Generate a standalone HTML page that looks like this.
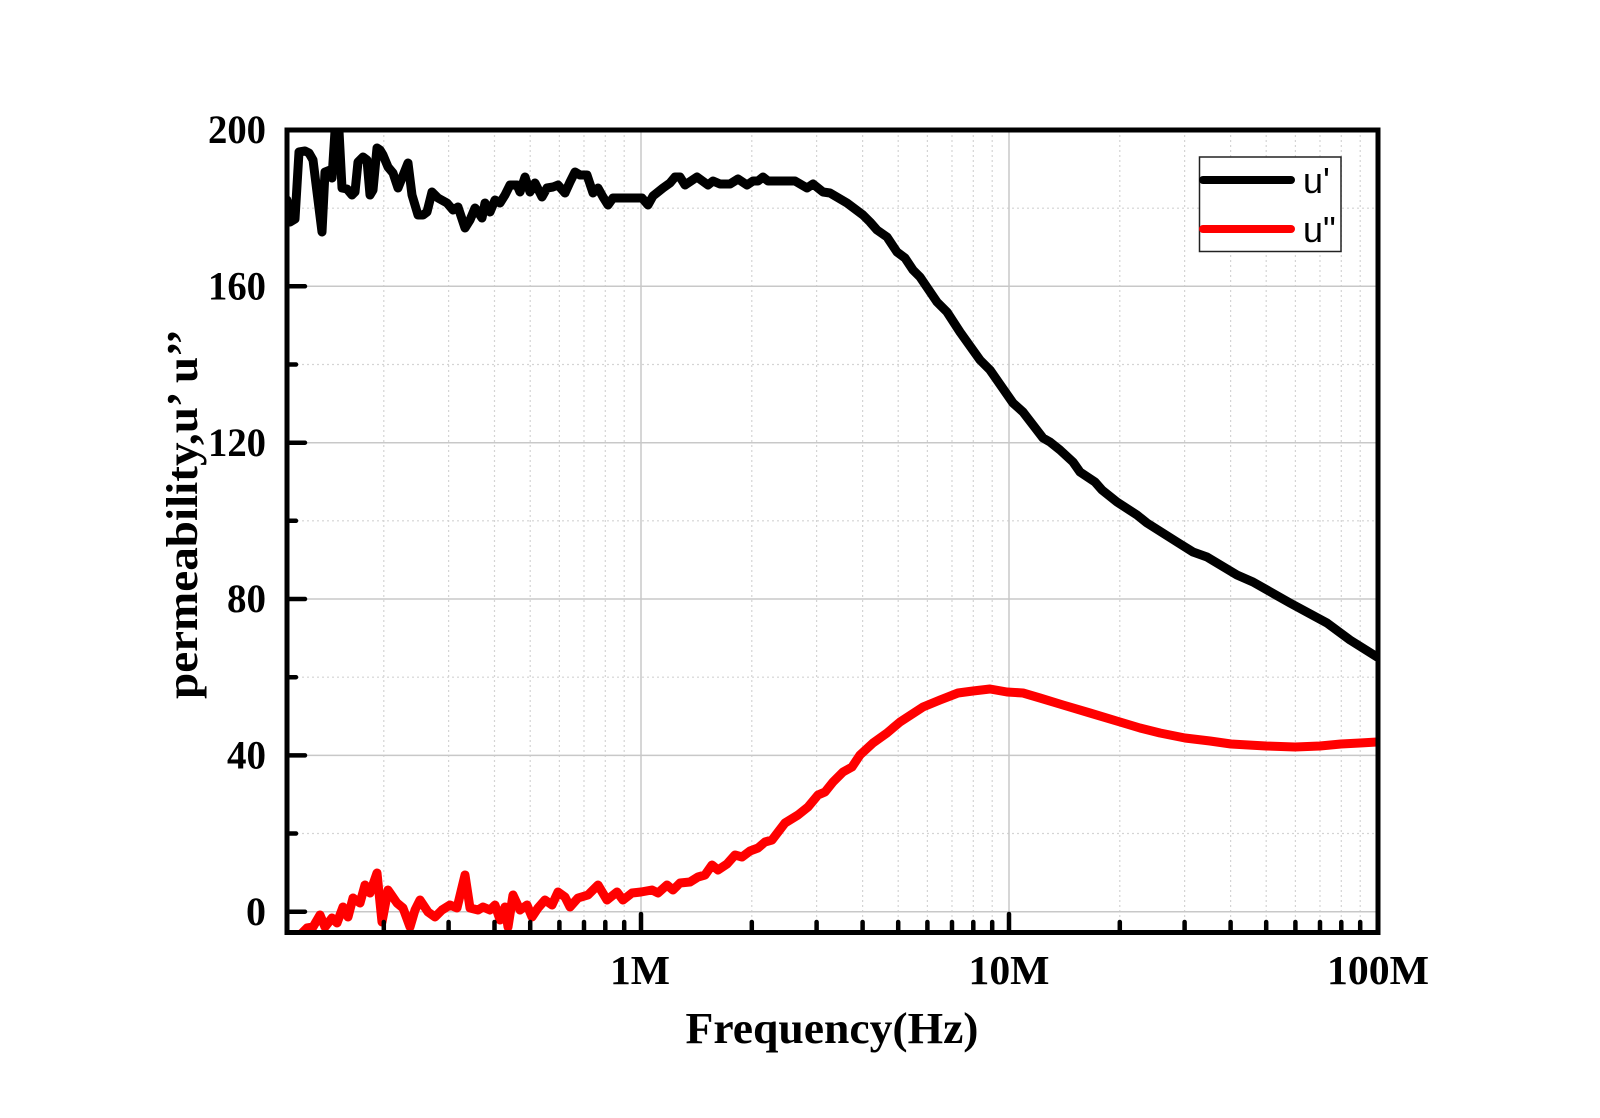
<!DOCTYPE html>
<html><head><meta charset="utf-8"><style>
html,body{margin:0;padding:0;background:#fff;}
svg{display:block;}
.tk{font-family:"Liberation Serif","Times New Roman",serif;font-weight:bold;fill:#000;}
.tt{font-family:"Liberation Serif","Times New Roman",serif;font-weight:bold;fill:#000;}
.lg{font-family:"Liberation Sans",Arial,sans-serif;font-size:36px;fill:#000;}
</style></head><body>
<svg width="1600" height="1118" viewBox="0 0 1600 1118" xmlns="http://www.w3.org/2000/svg">
<defs><clipPath id="pc"><rect x="287" y="128" width="1091" height="805"/></clipPath></defs>
<rect width="1600" height="1118" fill="#fff"/>
<!-- minor grid -->
<g stroke="#d4d4d4" stroke-width="1.2" stroke-dasharray="2,3" fill="none">
<path d="M287 208.2H1378M287 364.5H1378M287 520.8H1378M287 677.2H1378M287 833.5H1378"/>
<path d="M383.8 130V933M448.6 130V933M494.5 130V933M530.2 130V933M559.4 130V933M584 130V933M605.3 130V933M624.2 130V933
M751.8 130V933M816.6 130V933M862.6 130V933M898.2 130V933M927.4 130V933M952 130V933M973.3 130V933M992.2 130V933
M1119.8 130V933M1184.6 130V933M1230.6 130V933M1266.2 130V933M1295.4 130V933M1320 130V933M1341.3 130V933M1360.2 130V933"/>
</g>
<!-- major grid -->
<g stroke="#c8c8c8" stroke-width="1.5" fill="none">
<path d="M287 286.3H1378M287 442.7H1378M287 599H1378M287 755.4H1378M287 911.7H1378M641 130V933M1009 130V933"/>
</g>
<!-- curves -->
<g clip-path="url(#pc)" fill="none" stroke-width="9" stroke-linejoin="round" stroke-linecap="round">
<polyline stroke="#ff0000" points="287,945 300,935 307,928 313,927 320,915 325,927 332,918 337,923 343,907 348,917 353,898 360,903 365,885 370,893 377,873 382,922 388,890 397,903 403,908 410,927 415,910 420,900 428,912 435,917 442,910 450,905 457,908 465,875 470,908 478,910 483,907 490,910 495,905 500,920 505,907 508,927 513,895 520,910 527,905 532,917 538,908 545,900 552,905 558,892 565,897 570,907 578,898 588,895 598,885 607,900 617,892 623,900 632,893 641,892 652,890 658,893 667,885 673,890 680,883 690,882 698,877 705,875 712,865 718,870 727,864 735,855 742,857 750,851 758,848 765,842 772,840 785,823 798,815 808,807 818,795 825,792 833,782 843,772 852,767 860,755 873,743 887,733 900,722 923,707 940,700 958,693 973,691 990,689 1007,692 1023,693 1040,698 1063,705 1090,713 1120,722 1140,728 1160,733 1185,738 1210,741 1231,744 1266,746 1295,747 1320,746 1341,744 1360,743 1377,742"/>
<polyline stroke="#000" points="287,200 290,222 295,219 299,152 305,151 309,153 313,160 322,232 325,172 330,170 332,178 335,131 339,131 342,188 347,189 352,195 355,192 358,162 363,157 367,160 370,195 373,190 377,148 380,150 383,155 388,167 393,173 398,188 402,178 408,163 412,195 418,215 423,215 427,212 432,192 438,198 447,203 453,210 458,207 465,228 470,220 475,208 478,212 482,218 485,203 490,212 495,200 500,203 505,195 510,185 517,185 520,192 525,177 530,192 535,183 542,197 547,188 553,187 558,185 565,193 570,182 575,172 580,175 587,175 593,193 598,188 603,197 608,205 613,198 642,198 648,205 653,196 663,188 670,183 675,177 680,177 685,185 697,177 708,185 713,181 720,184 730,184 738,179 747,185 753,181 758,181 763,177 768,181 795,181 807,188 813,184 823,192 830,193 847,203 863,215 870,222 877,230 887,237 897,252 905,258 913,270 920,277 937,302 947,312 960,332 980,360 990,370 1013,403 1023,412 1043,438 1050,442 1060,450 1073,462 1080,472 1095,482 1102,490 1117,502 1137,515 1147,523 1177,542 1193,552 1207,557 1237,575 1253,582 1290,603 1327,623 1350,640 1377,657"/>
</g>
<!-- ticks -->
<g stroke="#000" stroke-width="4.5" stroke-linecap="round" fill="none">
<path d="M287 286.3H305M287 442.7H305M287 599H305M287 755.4H305M287 911.7H305"/>
<path d="M287 208.2H296M287 364.5H296M287 520.8H296M287 677.2H296M287 833.5H296"/>
<path d="M641 932V914M1009 932V914"/>
<path d="M383.8 932V922M448.6 932V922M494.5 932V922M530.2 932V922M559.4 932V922M584 932V922M605.3 932V922M624.2 932V922
M751.8 932V922M816.6 932V922M862.6 932V922M898.2 932V922M927.4 932V922M952 932V922M973.3 932V922M992.2 932V922
M1119.8 932V922M1184.6 932V922M1230.6 932V922M1266.2 932V922M1295.4 932V922M1320 932V922M1341.3 932V922M1360.2 932V922"/>
</g>
<!-- frame -->
<rect x="287" y="130" width="1091" height="802.5" fill="none" stroke="#000" stroke-width="5"/>
<!-- y tick labels -->
<g class="tk" text-anchor="end" font-size="40">
<text x="266" y="143" textLength="58" lengthAdjust="spacingAndGlyphs">200</text>
<text x="266" y="299.5" textLength="58" lengthAdjust="spacingAndGlyphs">160</text>
<text x="266" y="456" textLength="58" lengthAdjust="spacingAndGlyphs">120</text>
<text x="266" y="612" textLength="39" lengthAdjust="spacingAndGlyphs">80</text>
<text x="266" y="768.5" textLength="39" lengthAdjust="spacingAndGlyphs">40</text>
<text x="266" y="925">0</text>
</g>
<!-- x tick labels -->
<g class="tk" text-anchor="middle" font-size="41">
<text x="640" y="984" textLength="60" lengthAdjust="spacingAndGlyphs">1M</text>
<text x="1009" y="984" textLength="81" lengthAdjust="spacingAndGlyphs">10M</text>
<text x="1378" y="984" textLength="102" lengthAdjust="spacingAndGlyphs">100M</text>
</g>
<!-- axis titles -->
<text class="tt" x="832" y="1043" font-size="44" text-anchor="middle" textLength="293" lengthAdjust="spacingAndGlyphs">Frequency(Hz)</text>
<text class="tt" transform="translate(197,514) rotate(-90)" x="0" y="0" font-size="44" text-anchor="middle" textLength="370" lengthAdjust="spacingAndGlyphs">permeability,u’ u’’</text>
<!-- legend -->
<rect x="1199.5" y="157" width="141.5" height="94.5" fill="#fff" stroke="#222" stroke-width="1.5"/>
<line x1="1203" y1="180" x2="1291" y2="180" stroke="#000" stroke-width="8" stroke-linecap="round"/>
<line x1="1203" y1="229" x2="1291" y2="229" stroke="#ff0000" stroke-width="8" stroke-linecap="round"/>
<text class="lg" x="1303" y="193">u'</text>
<text class="lg" x="1303" y="242">u"</text>
</svg>
</body></html>
